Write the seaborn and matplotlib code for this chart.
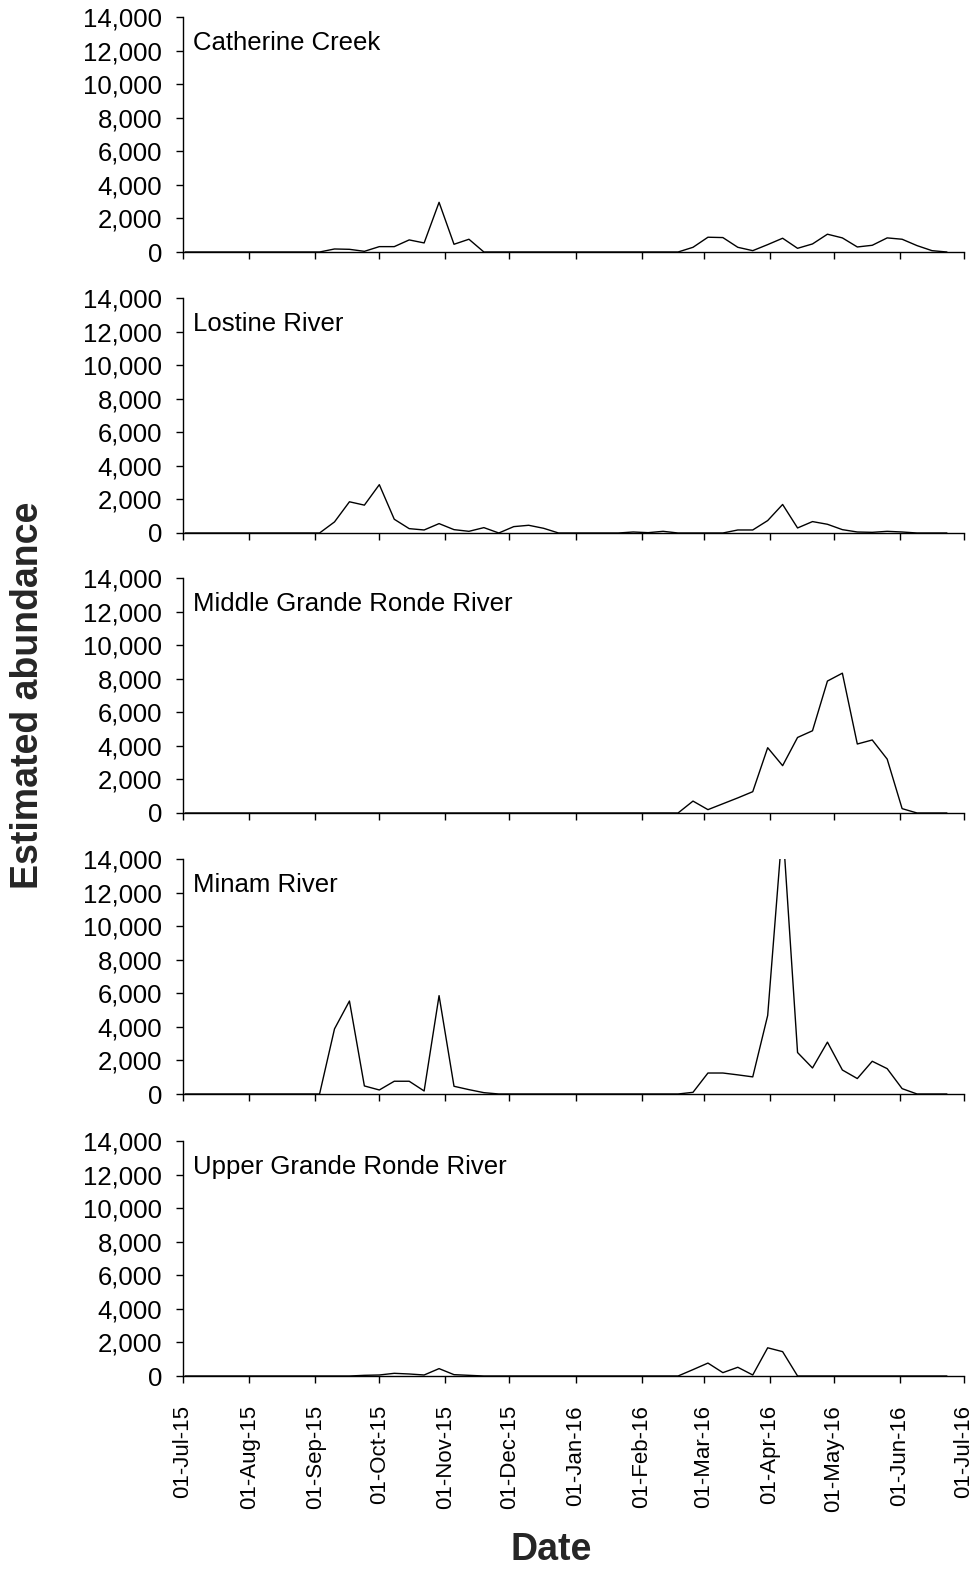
import matplotlib
matplotlib.use("Agg")
import matplotlib.pyplot as plt
import matplotlib.dates as mdates
from matplotlib.ticker import StrMethodFormatter, MultipleLocator
import pandas as pd
import seaborn as sns

# Weekly sampling dates (Thursdays), July 2015 through June 2016
sample_dates = pd.date_range("2015-07-02", periods=52, freq="7D")

rivers = [
    "Catherine Creek",
    "Lostine River",
    "Middle Grande Ronde River",
    "Minam River",
    "Upper Grande Ronde River",
]

catherine_creek = [0] * 10 + [
    180, 160, 40, 320, 320, 720, 540, 2960, 460, 760,
] + [0] * 14 + [
    280, 880, 860, 280, 80, 440, 820, 220, 480, 1060,
    840, 300, 400, 840, 760, 380, 80, 0,
]

lostine_river = [0] * 10 + [
    660, 1860, 1660, 2880, 820, 260, 180, 560, 200, 100,
    320, 0, 380, 460, 280, 0, 0, 0, 0, 0,
    60, 20, 100, 0, 0, 0, 0, 180, 180, 740,
    1700, 300, 680, 520, 200, 60, 40, 100, 60, 0,
    0, 0,
]

middle_grande_ronde = [0] * 34 + [
    710, 200, 550, 900, 1270, 3890, 2820, 4500, 4900, 7860,
    8330, 4110, 4350, 3210, 260, 0, 0, 0,
]

minam_river = [0] * 10 + [
    3880, 5540, 480, 240, 760, 760, 180, 5860, 460, 260,
    80,
] + [0] * 13 + [
    100, 1250, 1250, 1140, 1020, 4680, 16000, 2470, 1550, 3090,
    1430, 920, 1950, 1510, 320, 0, 0, 0,
]

upper_grande_ronde = [0] * 12 + [
    40, 60, 160, 120, 60, 440, 80, 40,
] + [0] * 14 + [
    380, 770, 200, 520, 60, 1680, 1450,
] + [0] * 11

series = [
    catherine_creek,
    lostine_river,
    middle_grande_ronde,
    minam_river,
    upper_grande_ronde,
]

month_ticks = pd.date_range("2015-07-01", "2016-07-01", freq="MS")
y_max = 14000
y_step = 2000

sns.set_style("ticks")
plt.rcParams["font.family"] = ["Liberation Sans", "DejaVu Sans"]
plt.rcParams["axes.linewidth"] = 1.0

W, H = 979, 1572
fig = plt.figure(figsize=(W / 100, H / 100), dpi=100)

left = 183 / W
width = (964 - 183) / W
panel_h = 235
tops = [17, 298, 578, 859, 1141]

for i, (name, vals) in enumerate(zip(rivers, series)):
    bottom = 1 - (tops[i] + panel_h) / H
    ax = fig.add_axes([left, bottom, width, panel_h / H])
    df = pd.DataFrame({"date": sample_dates, "abundance": vals})
    sns.lineplot(data=df, x="date", y="abundance", ax=ax,
                 color="black", linewidth=1.0)

    ax.set_xlim(month_ticks[0], month_ticks[-1])
    ax.set_ylim(0, y_max)
    ax.yaxis.set_major_locator(MultipleLocator(y_step))
    ax.yaxis.set_major_formatter(StrMethodFormatter("{x:,.0f}"))
    ax.set_xticks(month_ticks)
    ax.xaxis.set_major_formatter(mdates.DateFormatter("%d-%b-%y"))

    for side in ("top", "right"):
        ax.spines[side].set_visible(False)
    for side in ("left", "bottom"):
        ax.spines[side].set_color("black")
        ax.spines[side].set_linewidth(1.0)

    ax.tick_params(axis="y", direction="out", length=5, width=1.0,
                   color="black", labelsize=18.5, pad=10, labelcolor="black")
    ax.tick_params(axis="x", direction="out", length=5, width=1.0,
                   color="black", labelsize=16, pad=16, labelcolor="black",
                   rotation=90)
    if i < len(rivers) - 1:
        ax.tick_params(axis="x", labelbottom=False)

    ax.set_xlabel("")
    ax.set_ylabel("")
    ax.grid(False)
    ax.text(0.0128, 0.89, name, transform=ax.transAxes,
            fontsize=18.5, va="center", ha="left", color="black")

fig.text(28 / W, 1 - 695 / H, "Estimated abundance", rotation=90,
         fontsize=27, fontweight="bold", ha="center", va="center")
fig.text(551 / W, 1 - 1550 / H, "Date", fontsize=27, fontweight="bold",
         ha="center", va="center")

fig.savefig("out.png", dpi=100, facecolor="white")
